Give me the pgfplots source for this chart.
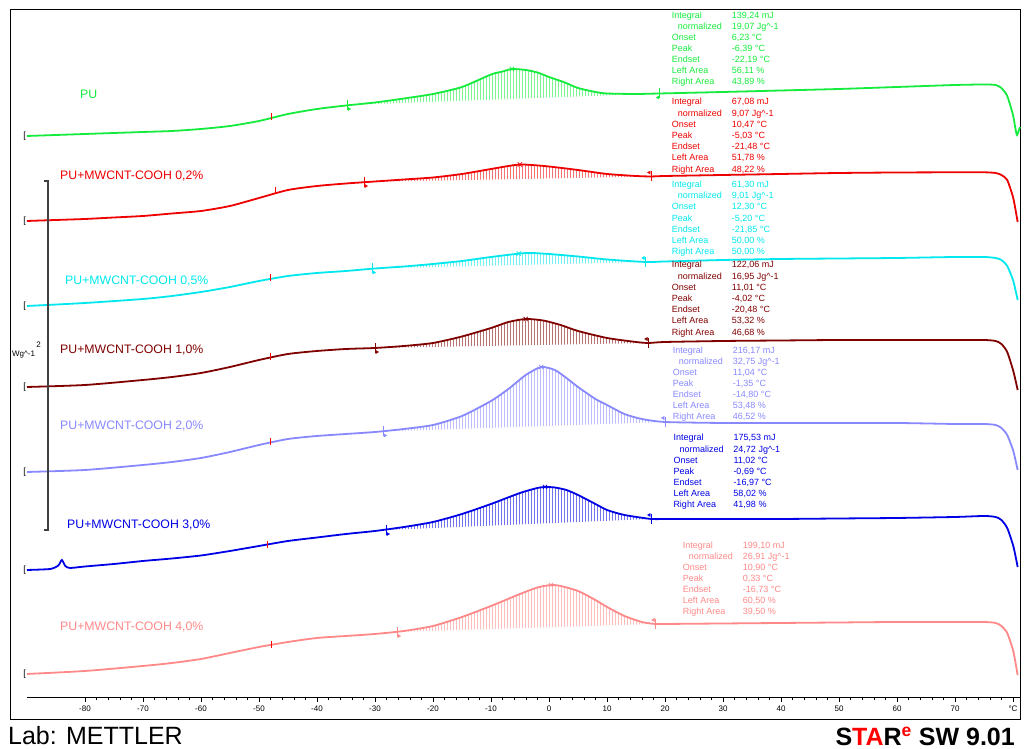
\documentclass[border=0pt]{standalone}
\usepackage{fontspec}
\setmainfont{Liberation Sans}
\usepackage{pgfplots}
\pgfplotsset{compat=1.18}
\usepgfplotslibrary{fillbetween}
\usetikzlibrary{patterns}
\definecolor{cGreen}{RGB}{20,235,60}
\definecolor{cRed}{RGB}{238,0,0}
\definecolor{cCyan}{RGB}{0,232,238}
\definecolor{cMaroon}{RGB}{128,0,0}
\definecolor{cLav}{RGB}{136,136,255}
\definecolor{cBlue}{RGB}{0,0,230}
\definecolor{cSalmon}{RGB}{255,136,136}
\newcommand{\ann}[8]{\begin{tabular}[t]{@{}p{60pt}@{}l@{}}
Integral & #1 mJ\\
\hspace*{6pt}normalized & #2 Jg\textasciicircum-1\\
Onset & #3 °C\\
Peak & #4 °C\\
Endset & #5 °C\\
Left Area & #6 \%\\
Right Area & #7 \%
\end{tabular}}
\pgfplotsset{
  curve/.style={line width=1.8pt, smooth, tension=0.4},
  lim/.style={only marks, mark=|, mark size=5pt, line width=0.8pt},
  limL/.style={only marks, mark=triangle*, mark size=1.8pt, mark options={rotate=-90}},
  limR/.style={only marks, mark=triangle*, mark size=1.8pt, mark options={rotate=90}},
  pk/.style={only marks, mark=x, mark size=3pt, line width=0.7pt},
}
\begin{document}
\begin{tikzpicture}
\begin{axis}[
  scale only axis, width=993pt, height=687pt,
  xmin=-90, xmax=81.2, ymin=-697, ymax=-10,
  axis x line=bottom, axis y line=none,
  axis line style={-, black, line width=0.8pt},
  xtick={-80,-70,...,80},
  xticklabels={-80,-70,-60,-50,-40,-30,-20,-10,0,10,20,30,40,50,60,70,°C},
  minor x tick num=4,
  tick align=outside,
  major tick length=5pt, minor tick length=3pt,
  xtick style={black, line width=0.6pt},
  x tick label style={font=\fontsize{8}{9}\selectfont},
  clip=false,
  enlargelimits=false,
]
\path (axis cs:-94.655,0) rectangle (axis cs:82.069,-749);
\draw[black, line width=1pt] (axis cs:-92.93,-10) rectangle (axis cs:81.21,-720);

% ---------- PU (green)
\addplot[name path=g, cGreen, curve] coordinates {
(-90,-136) (-85,-135) (-80,-134) (-75,-133) (-70,-132) (-65,-131) (-60,-129) (-55,-126) (-50,-121) (-45,-114) (-40,-109) (-35,-105.5) (-30,-102.5) (-25,-98.5) (-20,-94) (-15,-87) (-10,-74.5) (-8,-71.5) (-6.4,-69) (-4,-70) (-2,-72.5) (0,-77) (2.5,-82) (5,-88) (8,-92) (10,-93.5) (15,-94) (19,-93.5) (30,-92) (40,-90.5) (50,-89) (60,-87) (70,-85) (75,-84.5) (77,-85) (78,-88) (79,-96) (80,-115) (80.4,-128) (80.7,-135) (81.2,-127)};
\addplot[name path=gb, draw=none] coordinates {(-34.8,-105) (19.1,-93.5)};
\addplot[pattern=vertical lines, pattern color=cGreen!55] fill between[of=g and gb, soft clip={domain=-34.8:19.1}];

% ---------- 0,2 (red)
\addplot[name path=r, cRed, curve] coordinates {
(-90,-221) (-85,-220) (-80,-219) (-75,-217.5) (-70,-216) (-65,-213.5) (-60,-211) (-55,-206) (-50,-198) (-45,-190) (-40,-186) (-35,-183.5) (-30,-181.5) (-25,-179.5) (-20,-177.5) (-15,-174) (-10,-169) (-7,-166) (-5,-164.5) (-3,-165) (0,-166.5) (5,-170) (10,-174) (15,-176) (17.6,-176.5) (20,-176) (30,-175) (40,-174) (50,-173) (60,-172.5) (70,-172.3) (75,-172.3) (77,-173) (78,-175) (79,-180) (80,-197) (80.5,-212) (80.8,-222)};
\addplot[name path=rb, draw=none] coordinates {(-31.9,-182) (17.6,-176.5)};
\addplot[pattern=vertical lines, pattern color=cRed!55] fill between[of=r and rb, soft clip={domain=-31.9:17.6}];

% ---------- 0,5 (cyan)
\addplot[name path=c, cCyan, curve] coordinates {
(-90,-306) (-80,-303) (-70,-299) (-65,-296) (-60,-292) (-55,-287) (-50,-281) (-45,-276) (-40,-273) (-35,-271) (-30,-268.5) (-25,-266.5) (-20,-264) (-15,-261) (-10,-257) (-5,-253.5) (-3,-253) (0,-254) (5,-256.5) (10,-259.5) (16.6,-262) (20,-261.5) (30,-260) (40,-259) (50,-258.5) (60,-258) (70,-257) (75,-257) (77,-258) (78,-260) (79,-266) (80,-280) (80.5,-292) (80.8,-300)};
\addplot[name path=cb, draw=none] coordinates {(-30.5,-268.5) (16.6,-262)};
\addplot[pattern=vertical lines, pattern color=cCyan!55] fill between[of=c and cb, soft clip={domain=-30.5:16.6}];

% ---------- 1,0 (maroon)
\addplot[name path=m, cMaroon, curve] coordinates {
(-90,-387) (-80,-385) (-70,-380) (-65,-377) (-60,-373) (-55,-367) (-50,-360) (-45,-354) (-40,-351) (-35,-349) (-30,-348) (-25,-346) (-20,-343) (-15,-336.5) (-10,-328) (-7,-322) (-4,-319) (-1,-320.5) (2,-325) (5,-331) (10,-338) (15,-342) (17.1,-343) (20,-342) (30,-341) (40,-340.5) (50,-340) (60,-340) (70,-340) (75,-340) (77,-341) (78,-344) (79,-352) (80,-370) (80.5,-382) (80.8,-390)};
\addplot[name path=mb, draw=none] coordinates {(-30,-348) (17.1,-343)};
\addplot[pattern=vertical lines, pattern color=cMaroon!55] fill between[of=m and mb, soft clip={domain=-30:17.1}];

% ---------- 2,0 (lavender)
\addplot[name path=l, cLav, curve] coordinates {
(-90,-472) (-80,-470) (-70,-465) (-65,-462) (-60,-458) (-55,-452) (-50,-445) (-45,-439) (-40,-436) (-35,-434) (-30,-432) (-25,-429) (-20,-425) (-15,-416) (-10,-401) (-7,-389) (-4,-375) (-1.35,-367) (1,-370) (3,-378) (5,-387) (8,-399) (10,-405) (13,-414) (16,-419) (20,-422) (30,-423) (40,-423) (50,-423) (60,-423) (70,-424) (75,-424) (77,-425) (78,-428) (79,-435) (80,-450) (80.5,-462) (80.8,-470)};
\addplot[name path=lb, draw=none] coordinates {(-28.6,-431.5) (20,-422)};
\addplot[pattern=vertical lines, pattern color=cLav!55] fill between[of=l and lb, soft clip={domain=-28.6:20}];

% ---------- 3,0 (blue)
\addplot[name path=b, cBlue, curve] coordinates {
(-90,-570) (-86,-569) (-84.6,-565.5) (-84,-560) (-83.4,-566) (-82.6,-568) (-80,-566.5) (-75,-564) (-70,-561) (-65,-558.5) (-60,-555.5) (-55,-551) (-50,-546) (-45,-541) (-40,-537.5) (-35,-534) (-30,-531) (-25,-527) (-20,-522) (-15,-514) (-10,-504) (-5,-493) (-2,-488) (-0.7,-487) (1,-487.5) (3,-490) (5,-495) (8,-504) (10,-510) (13,-515) (17.6,-519) (20,-519) (30,-519) (40,-519) (50,-518.5) (60,-518) (70,-517) (75,-516) (77,-517) (78,-520) (79,-528) (80,-545) (80.5,-558) (80.8,-567)};
\addplot[name path=bb, draw=none] coordinates {(-28.1,-530) (17.6,-519)};
\addplot[pattern=vertical lines, pattern color=cBlue!55] fill between[of=b and bb, soft clip={domain=-28.1:17.6}];

% ---------- 4,0 (salmon)
\addplot[name path=s, cSalmon, curve] coordinates {
(-90,-674) (-80,-671) (-70,-666) (-65,-663) (-60,-659) (-55,-653) (-50,-647) (-45,-642) (-40,-638) (-35,-636) (-30,-634) (-25,-631) (-20,-626) (-15,-617) (-10,-606) (-5,-594) (-2,-587.5) (0.33,-585) (2,-586) (5,-591) (8,-600) (10,-607) (13,-616) (16,-622) (18.3,-624) (20,-624) (30,-623.5) (40,-623) (50,-622.5) (60,-622) (70,-622) (75,-622) (77,-623) (78,-626) (79,-633) (80,-650) (80.5,-665) (80.8,-675)};
\addplot[name path=sb, draw=none] coordinates {(-26.2,-632) (18.3,-624)};
\addplot[pattern=vertical lines, pattern color=cSalmon!55] fill between[of=s and sb, soft clip={domain=-26.2:18.3}];

% ---------- peak markers
\addplot[pk, cGreen] coordinates {(-6.39,-69)};
\addplot[pk, cRed] coordinates {(-5.03,-164.5)};
\addplot[pk, cCyan] coordinates {(-5.20,-253.5)};
\addplot[pk, cMaroon] coordinates {(-4.02,-319)};
\addplot[pk, cLav] coordinates {(-1.35,-367)};
\addplot[pk, cBlue] coordinates {(-0.69,-487)};
\addplot[pk, cSalmon] coordinates {(0.33,-585)};

% ---------- integration limits
\addplot[lim, cGreen] coordinates {(-34.8,-105) (19.1,-93.5)};
\addplot[lim, cRed] coordinates {(-31.9,-182) (17.6,-176.5)};
\addplot[lim, cCyan] coordinates {(-30.5,-268.5) (16.6,-262)};
\addplot[lim, cMaroon] coordinates {(-30,-348) (17.1,-343)};
\addplot[lim, cLav] coordinates {(-28.6,-431.5) (20,-422)};
\addplot[lim, cBlue] coordinates {(-28.1,-530) (17.6,-519)};
\addplot[lim, cSalmon] coordinates {(-26.2,-632) (18.3,-624)};
\addplot[limL, cGreen] coordinates {(-34.5,-109)};
\addplot[limL, cRed] coordinates {(-31.6,-186)};
\addplot[limL, cCyan] coordinates {(-30.2,-272.5)};
\addplot[limL, cMaroon] coordinates {(-29.7,-352)};
\addplot[limL, cLav] coordinates {(-28.3,-435.5)};
\addplot[limL, cBlue] coordinates {(-27.8,-534)};
\addplot[limL, cSalmon] coordinates {(-25.9,-636)};
\addplot[limR, cGreen] coordinates {(18.8,-97.5)};
\addplot[limR, cRed] coordinates {(17.3,-172.5)};
\addplot[limR, cCyan] coordinates {(16.3,-258)};
\addplot[limR, cMaroon] coordinates {(16.8,-339)};
\addplot[limR, cLav] coordinates {(19.7,-418)};
\addplot[limR, cBlue] coordinates {(17.3,-515)};
\addplot[limR, cSalmon] coordinates {(18.0,-620)};

% ---------- red ticks and start brackets
\addplot[only marks, mark=|, mark size=3.5pt, red, line width=0.8pt] coordinates {(-47.8,-117) (-47.2,-191) (-48.1,-278) (-48.1,-357) (-48.1,-442) (-48.6,-545) (-47.8,-645)};
\addplot[only marks, mark=text, text mark={\fontsize{9}{9}\selectfont[}, red] coordinates {(-90.4,-136) (-90.4,-221) (-90.4,-306) (-90.4,-387) (-90.4,-472) (-90.4,-570) (-90.4,-674)};

% ---------- scale bar
\draw[black!75, line width=1.2pt] (axis cs:-87.1,-181) -- (axis cs:-86.38,-181) -- (axis cs:-86.38,-530) -- (axis cs:-87.1,-530);
\node[font=\fontsize{8}{8}\selectfont] at (axis cs:-88.0,-345) {2};
\node[font=\fontsize{8}{8}\selectfont] at (axis cs:-90.6,-355) {Wg\textasciicircum-1};

% ---------- curve labels
\node[anchor=west, inner sep=0, text=cGreen, font=\fontsize{12.3}{13}\selectfont] at (axis cs:-80.86,-94) {PU};
\node[anchor=west, inner sep=0, text=cRed, font=\fontsize{12.3}{13}\selectfont] at (axis cs:-84.31,-176) {PU+MWCNT-COOH 0,2\%};
\node[anchor=west, inner sep=0, text=cCyan, font=\fontsize{12.3}{13}\selectfont] at (axis cs:-83.45,-281) {PU+MWCNT-COOH 0,5\%};
\node[anchor=west, inner sep=0, text=cMaroon, font=\fontsize{12.3}{13}\selectfont] at (axis cs:-84.31,-350) {PU+MWCNT-COOH 1,0\%};
\node[anchor=west, inner sep=0, text=cLav, font=\fontsize{12.3}{13}\selectfont] at (axis cs:-84.31,-426) {PU+MWCNT-COOH 2,0\%};
\node[anchor=west, inner sep=0, text=cBlue, font=\fontsize{12.3}{13}\selectfont] at (axis cs:-83.1,-525) {PU+MWCNT-COOH 3,0\%};
\node[anchor=west, inner sep=0, text=cSalmon, font=\fontsize{12.3}{13}\selectfont] at (axis cs:-84.31,-627) {PU+MWCNT-COOH 4,0\%};

% ---------- annotation blocks
\node[anchor=base west, inner sep=0, text=cGreen, font=\fontsize{9}{11.1}\selectfont] at (axis cs:21.16,-18.2) {\ann{139,24}{19,07}{6,23}{-6,39}{-22,19}{56,11}{43,89}{}};
\node[anchor=base west, inner sep=0, text=cRed, font=\fontsize{9}{11.2}\selectfont] at (axis cs:21.16,-105) {\ann{67,08}{9,07}{10,47}{-5,03}{-21,48}{51,78}{48,22}{}};
\node[anchor=base west, inner sep=0, text=cCyan, font=\fontsize{9}{11.2}\selectfont] at (axis cs:21.16,-187.5) {\ann{61,30}{9,01}{12,30}{-5,20}{-21,85}{50,00}{50,00}{}};
\node[anchor=base west, inner sep=0, text=cMaroon, font=\fontsize{9}{11.2}\selectfont] at (axis cs:21.16,-268) {\ann{122,06}{16,95}{11,01}{-4,02}{-20,48}{53,32}{46,68}{}};
\node[anchor=base west, inner sep=0, text=cLav, font=\fontsize{9}{11.1}\selectfont] at (axis cs:21.33,-353.2) {\ann{216,17}{32,75}{11,04}{-1,35}{-14,80}{53,48}{46,52}{}};
\node[anchor=base west, inner sep=0, text=cBlue, font=\fontsize{9}{11.1}\selectfont] at (axis cs:21.43,-441) {\ann{175,53}{24,72}{11,02}{-0,69}{-16,97}{58,02}{41,98}{}};
\node[anchor=base west, inner sep=0, text=cSalmon, font=\fontsize{9}{11}\selectfont] at (axis cs:23.05,-549) {\ann{199,10}{26,91}{10,90}{0,33}{-16,73}{60,50}{39,50}{}};

% ---------- footer
\node[anchor=west, inner sep=0, font=\fontsize{25}{26}\selectfont] at (axis cs:-93.28,-736) {Lab: METTLER};
\node[anchor=east, inner sep=0, font=\bfseries\fontsize{25}{26}\selectfont] at (axis cs:80.34,-736) {S\textcolor{red}{TA}R\textsuperscript{\textcolor{red}{e}} SW 9.01};
\end{axis}
\end{tikzpicture}
\end{document}
